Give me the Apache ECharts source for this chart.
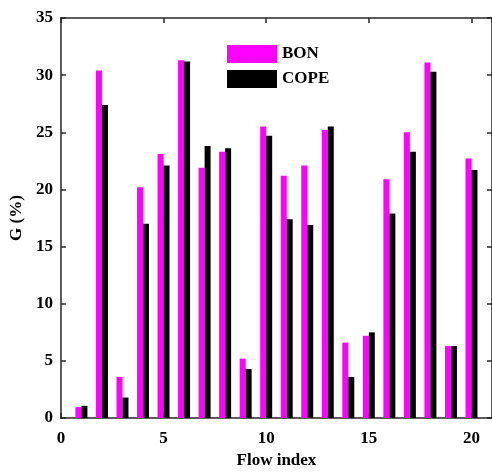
<!DOCTYPE html>
<html>
<head>
<meta charset="utf-8">
<script src="https://cdn.jsdelivr.net/npm/echarts@6/dist/echarts.min.js"></script>
<style>
  html, body { margin: 0; padding: 0; background: #fff; }
  #chart { width: 492px; height: 474px; }
</style>
</head>
<body>
<div id="chart"></div>
<script>
// Flow indices and goodput gain per method
const flowIndex = [1, 2, 3, 4, 5, 6, 7, 8, 9, 10, 11, 12, 13, 14, 15, 16, 17, 18, 19, 20];
const bonValues = [0.96, 30.4, 3.6, 20.2, 23.1, 31.3, 21.9, 23.3, 5.2, 25.5, 21.2, 22.1, 25.2, 6.6, 7.2, 20.9, 25.0, 31.1, 6.3, 22.7];
const copeValues = [1.07, 27.4, 1.8, 17.0, 22.1, 31.2, 23.8, 23.6, 4.3, 24.7, 17.4, 16.9, 25.5, 3.6, 7.5, 17.9, 23.3, 30.3, 6.3, 21.7];
const xTicks = { min: 0, max: 21, interval: 5 };
const yTicks = { min: 0, max: 35, interval: 5 };

const serif = '"Liberation Serif", "DejaVu Serif", serif';
const axisColor = '#262626';

function pairs(vals) {
  return flowIndex.map((x, i) => [x, vals[i]]);
}

const labelStyle = { fontFamily: serif, fontSize: 17, fontWeight: 'bold', color: '#000' };
const nameStyle = { fontFamily: serif, fontSize: 17, fontWeight: 'bold', color: '#000' };
const lineStyle = { color: axisColor, width: 1.5 };
const boxLine = { show: true, onZero: false, lineStyle: lineStyle };
const boxTick = { show: true, inside: true, length: 5, lineStyle: lineStyle };

const chart = echarts.init(document.getElementById('chart'));
chart.setOption({
  animation: false,
  backgroundColor: '#fff',
  grid: { left: 60, top: 18, width: 434, height: 402, containLabel: false },
  legend: {
    orient: 'vertical',
    left: 227,
    top: 45,
    padding: 0,
    itemWidth: 50,
    itemHeight: 18,
    itemGap: 7,
    icon: 'rect',
    textStyle: { fontFamily: serif, fontSize: 17, fontWeight: 'bold', color: '#000' },
    data: ['BON', 'COPE']
  },
  xAxis: [
    {
      type: 'value', position: 'bottom',
      min: xTicks.min, max: xTicks.max, interval: xTicks.interval,
      name: 'Flow index', nameLocation: 'middle', nameGap: 31,
      nameTextStyle: nameStyle,
      axisLine: boxLine,
      axisTick: boxTick,
      axisLabel: Object.assign({ margin: 12, showMaxLabel: false }, labelStyle),
      splitLine: { show: false }
    },
    {
      type: 'value', position: 'top',
      min: xTicks.min, max: xTicks.max, interval: xTicks.interval,
      axisLine: boxLine,
      axisTick: boxTick,
      axisLabel: { show: false },
      splitLine: { show: false }
    }
  ],
  yAxis: [
    {
      type: 'value', position: 'left',
      min: yTicks.min, max: yTicks.max, interval: yTicks.interval,
      name: 'G (%)', nameLocation: 'middle', nameGap: 34,
      nameTextStyle: nameStyle,
      axisLine: boxLine,
      axisTick: boxTick,
      axisLabel: Object.assign({ margin: 8 }, labelStyle),
      splitLine: { show: false }
    },
    {
      type: 'value', position: 'right',
      min: yTicks.min, max: yTicks.max, interval: yTicks.interval,
      axisLine: boxLine,
      axisTick: boxTick,
      axisLabel: { show: false },
      splitLine: { show: false }
    }
  ],
  series: [
    {
      name: 'BON', type: 'bar', xAxisIndex: 0, yAxisIndex: 0,
      data: pairs(bonValues),
      barWidth: 6, barGap: '0%',
      itemStyle: { color: '#FF00FF' }
    },
    {
      name: 'COPE', type: 'bar', xAxisIndex: 0, yAxisIndex: 0,
      data: pairs(copeValues),
      barWidth: 6, barGap: '0%',
      itemStyle: { color: '#000000' }
    }
  ]
});
</script>
</body>
</html>
